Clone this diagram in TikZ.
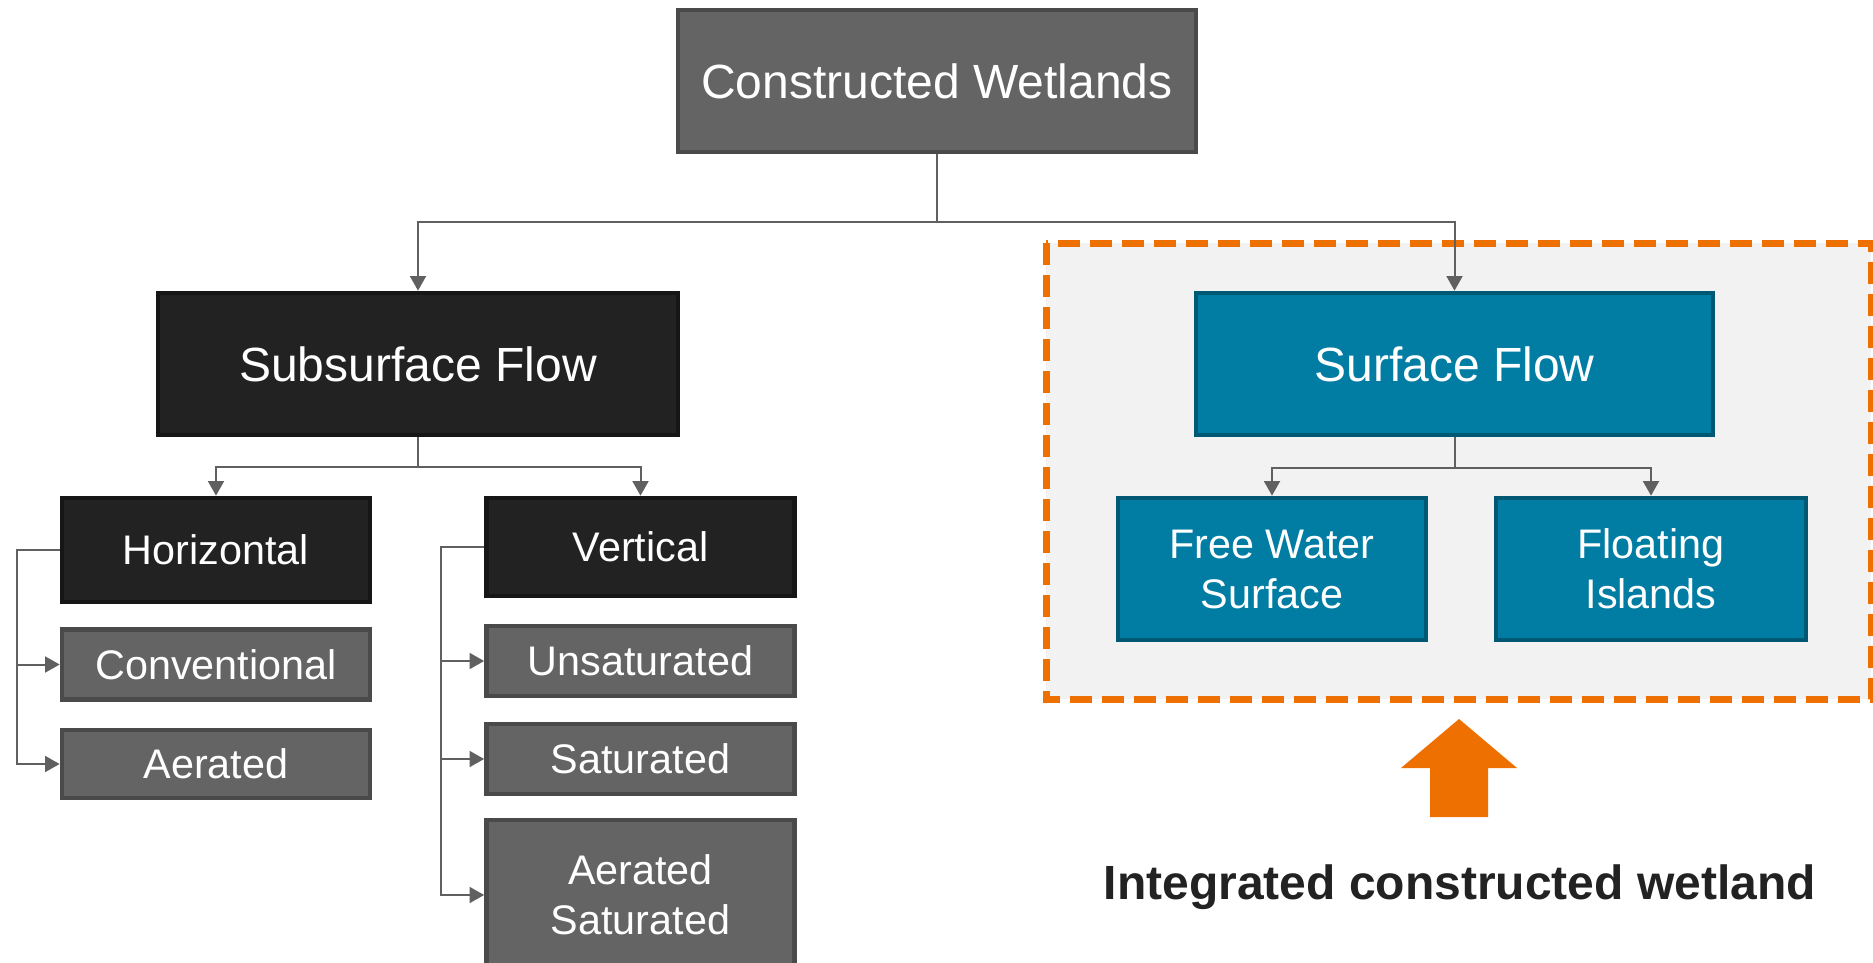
\documentclass[tikz,border=0pt]{standalone}
\usepackage{fontspec}
\setmainfont{Liberation Sans}
\usepackage{xcolor}
\usepackage{tikz}
\usetikzlibrary{arrows.meta}
\definecolor{cwgray}{RGB}{100,100,100}
\definecolor{cwgrayline}{RGB}{74,74,74}
\definecolor{cwdark}{RGB}{34,34,34}
\definecolor{cwdarkline}{RGB}{22,22,22}
\definecolor{cwteal}{RGB}{1,125,164}
\definecolor{cwtealline}{RGB}{0,88,117}
\definecolor{cworange}{RGB}{238,112,0}
\definecolor{cwpanel}{RGB}{242,242,242}
\definecolor{cwline}{RGB}{96,96,96}
\definecolor{cwtext}{RGB}{34,34,34}
\def\px{0.75pt}

\begin{document}
\begin{tikzpicture}[
    x=0.75pt, y=-0.75pt,
    every node/.style={font=\fontsize{31}{37.5}\selectfont, text=white, align=center, inner sep=0pt},
    box/.style={rectangle, line width=3.5pt, minimum width=308*\px},
    big/.style={font=\fontsize{36}{43}\selectfont},
    graybox/.style={box, fill=cwgray, draw=cwgrayline},
    darkbox/.style={box, fill=cwdark, draw=cwdarkline},
    tealbox/.style={box, fill=cwteal, draw=cwtealline},
    conn/.style={draw=cwline, line width=1.5pt},
    arr/.style={-{Triangle[width=12pt,length=11pt]}},
]
\useasboundingbox (0,0) rectangle (1873,963);
\clip (0,0) rectangle (1873,963);

% Panel behind the surface flow branch
\draw[fill=cwpanel, draw=cworange, line width=5.25pt, dash pattern=on 16.5pt off 7.5pt]
    (1046,243) rectangle (1871,699);

% Root
\node[graybox, big, minimum width=518*\px, minimum height=142*\px] (cw) at (937,81) {Constructed Wetlands};

% Main branches
\node[darkbox, big, minimum width=520*\px, minimum height=142*\px] (sub) at (418,364) {Subsurface Flow};
\node[tealbox, big, minimum width=517*\px, minimum height=142*\px] (surf) at (1454.5,364) {Surface Flow};

% Subsurface branches
\node[darkbox, minimum height=104*\px] (horiz) at (216,550) {Horizontal};
\node[darkbox, minimum height=98*\px] (vert) at (640.5,547) {Vertical};
\node[graybox, minimum height=70*\px] (conv) at (216,664.5) {Conventional};
\node[graybox, minimum height=68*\px] (aer) at (216,764) {Aerated};
\node[graybox, minimum height=70*\px] (unsat) at (640.5,661) {Unsaturated};
\node[graybox, minimum height=70*\px] (sat) at (640.5,759) {Saturated};
\node[graybox, minimum height=150*\px] (asat) at (640.5,895) {Aerated\\Saturated};

% Surface branches
\node[tealbox, minimum height=142*\px] (fws) at (1272,569) {Free Water\\Surface};
\node[tealbox, minimum width=310*\px, minimum height=142*\px] (fli) at (1651,569) {Floating\\Islands};

% Connectors
\coordinate (topbar) at (937,222);
\draw[conn] (cw.south) -- (topbar);
\draw[conn, arr] (topbar) -| (sub.north);
\draw[conn, arr] (topbar) -| (surf.north);

\coordinate (subbar) at (418,467);
\draw[conn] (sub.south) -- (subbar);
\draw[conn, arr] (subbar) -| (horiz.north);
\draw[conn, arr] (subbar) -| (vert.north);

\coordinate (surfbar) at (1454.5,468);
\draw[conn] (surf.south) -- (surfbar);
\draw[conn, arr] (surfbar) -| (fws.north);
\draw[conn, arr] (surfbar) -| (fli.north);

\coordinate (hbus) at (17,550);
\draw[conn, arr] (horiz.west) -- (hbus) |- (aer.west);
\draw[conn, arr] (hbus |- conv.west) -- (conv.west);

\coordinate (vbus) at (441,547);
\draw[conn, arr] (vert.west) -- (vbus) |- (asat.west);
\draw[conn, arr] (vbus |- unsat.west) -- (unsat.west);
\draw[conn, arr] (vbus |- sat.west) -- (sat.west);

% Orange arrow and caption
\fill[cworange] (1459,719) -- (1517,768) -- (1488,768) -- (1488,817)
    -- (1430,817) -- (1430,768) -- (1401,768) -- cycle;
\node[font=\fontsize{36}{43}\selectfont\bfseries, text=cwtext, anchor=base] (icw) at (1460,899) {Integrated constructed wetland};
\end{tikzpicture}
\end{document}
